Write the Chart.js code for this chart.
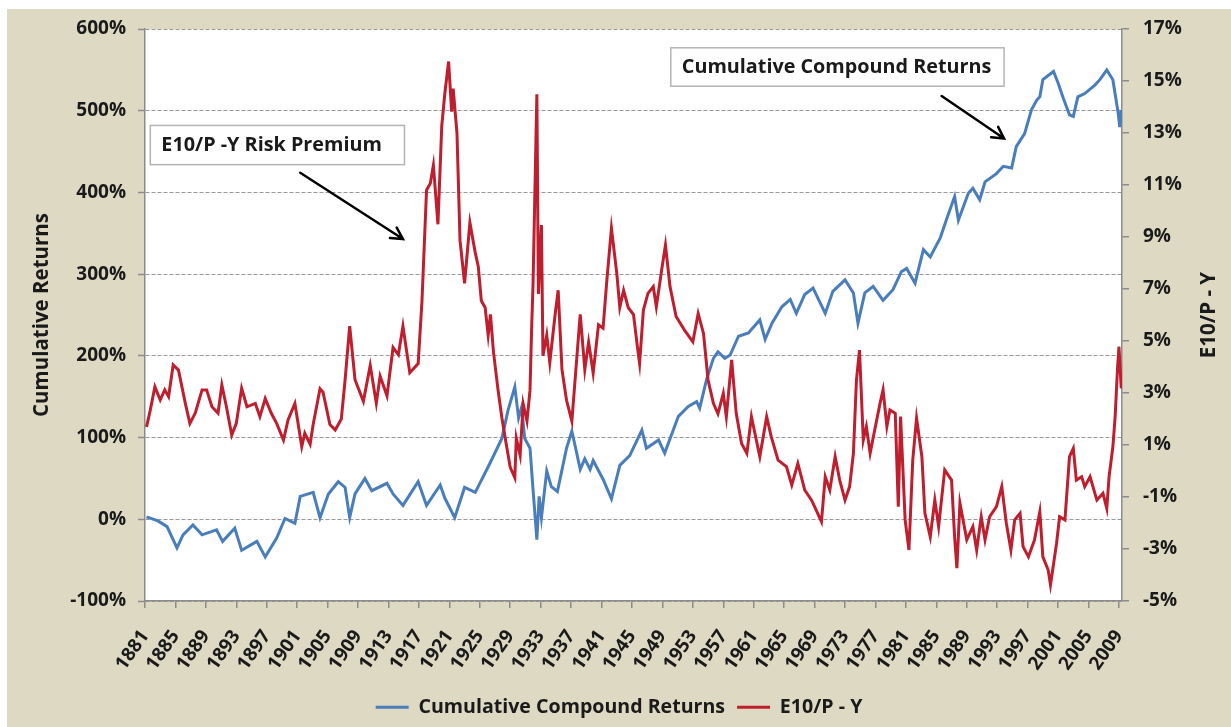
<!DOCTYPE html>
<html>
<head>
<meta charset="utf-8">
<script src="https://cdn.jsdelivr.net/npm/chart.js@4.4.1/dist/chart.umd.min.js"></script>
<style>
  html, body { margin: 0; padding: 0; background: #ffffff; }
  #frame { position: absolute; left: 7px; top: 9px; width: 1224px; height: 718px; background: #ddd9c3; }
  canvas { display: block; }
</style>
</head>
<body>
<div id="frame"><canvas id="chart" width="1224" height="718"></canvas></div>
<script>
// Cumulative compound returns (left axis, %)
var returnYears = [1881.2, 1882.7, 1883.9, 1885.2, 1886.0, 1887.3, 1888.5, 1890.4, 1891.2, 1892.8, 1893.7, 1895.7, 1896.8, 1898.3, 1899.4, 1900.7,
  1901.4, 1903.1, 1904.0, 1905.1, 1906.4, 1907.3, 1907.9, 1908.6, 1909.9, 1910.8, 1912.8, 1913.6, 1914.9, 1916.9, 1918.0, 1919.8, 1920.4,
  1921.7, 1923.0, 1924.4, 1925.0, 1926.3, 1927.9, 1928.7, 1929.6, 1930.1, 1930.5, 1930.9, 1931.6, 1932.0, 1932.5, 1932.8, 1933.1, 1933.8,
  1934.4, 1935.2, 1936.4, 1937.1, 1938.2, 1938.8, 1939.5, 1939.9, 1941.2, 1942.3, 1943.4, 1944.7, 1946.3, 1946.9, 1948.5, 1949.3, 1951.1,
  1952.4, 1953.5, 1953.9, 1954.8, 1955.7, 1956.3, 1957.2, 1957.9, 1959.0, 1960.3, 1961.8, 1962.5, 1963.4, 1964.7, 1965.8, 1966.6, 1967.7,
  1968.8, 1970.4, 1971.4, 1973.0, 1974.1, 1974.7, 1975.6, 1976.7, 1978.0, 1979.3, 1980.4, 1981.1, 1982.2, 1983.3, 1984.2, 1985.5, 1986.3,
  1987.4, 1987.9, 1989.2, 1989.8, 1990.7, 1991.4, 1992.9, 1993.8, 1994.9, 1995.5, 1996.6, 1997.5, 1998.2, 1998.6, 1999.0, 2000.4, 2001.0,
  2001.7, 2002.5, 2003.0, 2003.6, 2004.5, 2005.8, 2006.5, 2007.4, 2008.2, 2008.9, 2009.1, 2009.3];
var returnValues = [3, -2, -9, -35, -19, -7, -19, -13, -27, -11, -38, -27, -46, -23, 1, -5,
  28, 33, 2, 31, 46, 39, 2, 31, 50, 35, 44, 31, 17, 46, 17, 42, 26,
  2, 39, 33, 44, 68, 99, 133, 162, 124, 137, 99, 87, 36, -25, 28, 2, 59,
  40, 34, 87, 108, 61, 74, 61, 72, 49, 25, 66, 78, 109, 87, 97, 81, 126,
  138, 144, 136, 171, 197, 205, 197, 201, 224, 228, 244, 220, 240, 260, 269, 252, 275,
  283, 252, 279, 293, 277, 240, 277, 285, 268, 281, 303, 307, 289, 330, 321, 344, 366,
  395, 366, 399, 405, 391, 413, 423, 432, 430, 456, 472, 501, 513, 517, 538, 548, 534,
  515, 495, 493, 517, 521, 531, 538, 550, 538, 497, 480, 501];

// E10/P - Y risk premium (right axis, %)
var premiumYears = [1881.2, 1881.7, 1882.3, 1883.0, 1883.6, 1884.1, 1884.7, 1885.4, 1886.3, 1886.9, 1887.6, 1888.5, 1889.1, 1889.8, 1890.6,
  1891.1, 1891.7, 1892.4, 1893.0, 1893.7, 1894.4, 1895.5, 1896.1, 1896.8, 1897.6, 1898.3, 1899.2, 1899.8, 1900.7, 1901.6, 1902.0, 1902.7,
  1903.1, 1904.0, 1904.4, 1905.3, 1906.0, 1906.8, 1907.3, 1907.9, 1908.6, 1909.7, 1910.6, 1911.4, 1911.9, 1912.8, 1913.6, 1914.3, 1914.9,
  1915.8, 1916.9, 1917.4, 1918.0, 1918.5, 1918.9, 1919.5, 1920.0, 1920.4, 1920.9, 1921.3, 1921.5, 1922.0, 1922.4, 1923.0, 1923.7, 1924.4,
  1924.8, 1925.2, 1925.7, 1926.1, 1926.4, 1926.8, 1927.4, 1927.9, 1928.5, 1929.0, 1929.6, 1929.8, 1930.3, 1930.7, 1931.2, 1931.6, 1931.8,
  1932.0, 1932.5, 1932.7, 1933.1, 1933.3, 1933.8, 1934.2, 1934.9, 1935.3, 1935.8, 1936.4, 1937.1, 1937.7, 1938.2, 1938.8, 1939.3, 1939.9,
  1940.6, 1941.2, 1941.7, 1942.3, 1943.0, 1943.4, 1943.9, 1944.5, 1945.2, 1945.8, 1946.0, 1946.5, 1947.1, 1947.8, 1948.2, 1948.9, 1949.4,
  1950.0, 1950.8, 1951.9, 1953.0, 1953.7, 1954.4, 1955.0, 1955.7, 1956.3, 1957.0, 1957.4, 1958.1, 1958.7, 1959.4, 1960.1, 1960.7, 1961.8,
  1962.7, 1963.3, 1964.2, 1965.3, 1966.0, 1966.8, 1967.7, 1968.6, 1969.0, 1969.9, 1970.4, 1971.0, 1971.7, 1972.3, 1973.0, 1973.6, 1974.1,
  1974.5, 1974.9, 1975.4, 1975.8, 1976.3, 1976.9, 1977.6, 1978.0, 1978.5, 1978.9, 1979.6, 1980.0, 1980.3, 1980.9, 1981.4, 1981.9, 1982.4,
  1983.1, 1983.5, 1984.2, 1984.8, 1985.3, 1986.1, 1987.0, 1987.4, 1987.7, 1988.1, 1989.0, 1989.8, 1990.3, 1990.9, 1991.4, 1992.0, 1992.9,
  1993.6, 1994.2, 1994.8, 1995.3, 1996.0, 1996.4, 1997.1, 1997.9, 1998.6, 1999.0, 1999.7, 2000.0, 2000.8, 2001.2, 2001.9, 2002.5, 2003.0,
  2003.4, 2004.1, 2004.5, 2005.2, 2006.1, 2006.9, 2007.4, 2007.7, 2008.2, 2008.5, 2008.8, 2009.0, 2009.3];
var premiumValues = [1.70, 2.35, 3.24, 2.73, 3.12, 2.86, 4.08, 3.88, 2.60, 1.83, 2.22, 3.12, 3.12, 2.47, 2.22,
  3.31, 2.47, 1.38, 1.83, 3.18, 2.47, 2.60, 2.09, 2.79, 2.22, 1.83, 1.19, 1.96, 2.60, 0.94, 1.45, 1.03,
  1.79, 3.16, 3.03, 1.79, 1.58, 2.00, 3.51, 5.57, 3.51, 2.68, 4.06, 2.61, 3.65, 2.89, 4.75, 4.47, 5.57,
  3.78, 4.13, 6.53, 10.80, 11.07, 11.76, 9.49, 13.27, 14.51, 15.75, 13.82, 14.71, 13.00, 8.87, 7.22, 9.55, 8.40,
  7.87, 6.55, 6.29, 5.23, 6.02, 4.57, 3.11, 2.05, 0.99, 0.14, -0.26, 1.26, 0.60, 2.58, 1.92, 3.11, 5.36,
  7.21, 14.49, 6.81, 9.46, 4.43, 5.23, 4.17, 6.02, 6.95, 3.90, 2.72, 1.92, 4.17, 6.02, 3.90, 4.96, 3.77,
  5.62, 5.49, 7.34, 9.33, 7.61, 6.29, 6.95, 6.29, 6.02, 4.57, 4.14, 6.19, 6.83, 7.09, 6.32, 7.73, 8.69,
  7.09, 5.94, 5.42, 4.97, 6.06, 5.29, 3.50, 2.60, 2.20, 2.99, 2.09, 4.27, 2.22, 1.06, 0.68, 2.09, 0.55,
  2.09, 1.32, 0.42, 0.17, -0.54, 0.29, -0.73, -1.12, -1.37, -1.95, -0.22, -0.73, 0.55, -0.35, -1.12, -0.60, 0.68,
  3.50, 4.65, 1.19, 1.71, 0.68, 1.58, 2.60, 3.12, 1.71, 2.35, 2.22, -1.37, 2.09, -1.88, -3.04, 0.42, 2.03,
  0.55, -1.63, -2.53, -1.12, -2.14, 0.04, -0.35, -2.53, -3.74, -1.24, -2.65, -2.14, -3.04, -1.76, -2.65, -1.76, -1.37,
  -0.60, -2.01, -3.04, -1.88, -1.63, -2.91, -3.30, -2.65, -1.57, -3.30, -3.81, -4.38, -2.78, -1.76, -1.88, 0.55, 0.87,
  -0.35, -0.22, -0.60, -0.22, -1.12, -0.86, -1.44, -0.22, 0.93, 2.09, 3.88, 4.78, 3.18];

var yearTicks = [];
for (var yr = 1881; yr <= 2009; yr += 4) yearTicks.push(yr);
var returnTicks = [-100, 0, 100, 200, 300, 400, 500, 600];
var premiumTicks = [-5, -3, -1, 1, 3, 5, 7, 9, 11, 13, 15, 17];

// callout boxes and arrows, placed in data units (year, cumulative return %)
var callouts = [
  { text: 'E10/P -Y Risk Premium', x0: 1881.7, x1: 1915.1, y0: 482, y1: 434 },
  { text: 'Cumulative Compound Returns', x0: 1950.1, x1: 1993.9, y0: 577, y1: 530 }
];
var arrows = [
  { from: [1901.4, 424], to: [1914.9, 343] },
  { from: [1985.7, 518], to: [1993.9, 466] }
];

var FONT = "'Open Sans', sans-serif";
var TEXT = '#1a1a1a';
var AXIS = '#8c8c8c';
var PLOT_BOTTOM = 592; // canvas px where the plot area ends

function pairs(xs, ys) {
  return xs.map(function (x, i) { return { x: x, y: ys[i] }; });
}

var plotBackground = {
  id: 'plotBackground',
  beforeDraw: function (chart) {
    var a = chart.chartArea, ctx = chart.ctx;
    ctx.save();
    ctx.fillStyle = '#ffffff';
    ctx.fillRect(a.left, a.top, a.right - a.left, a.bottom - a.top);
    ctx.restore();
  }
};

var axisTitles = {
  id: 'axisTitles',
  afterDraw: function (chart) {
    var a = chart.chartArea, ctx = chart.ctx;
    var mid = (a.top + a.bottom) / 2;
    ctx.save();
    ctx.fillStyle = TEXT;
    ctx.font = 'bold 20.5px ' + FONT;
    ctx.textAlign = 'center';
    ctx.textBaseline = 'middle';
    [[35, 'Cumulative Returns'], [1202, 'E10/P - Y']].forEach(function (t) {
      ctx.save();
      ctx.translate(t[0], mid);
      ctx.rotate(-Math.PI / 2);
      ctx.fillText(t[1], 0, 0);
      ctx.restore();
    });
    ctx.restore();
  }
};

var calloutPlugin = {
  id: 'callouts',
  afterDatasetsDraw: function (chart) {
    var xs = chart.scales.x, ys = chart.scales.y, ctx = chart.ctx;
    ctx.save();
    callouts.forEach(function (c) {
      var l = xs.getPixelForValue(c.x0), r = xs.getPixelForValue(c.x1);
      var t = ys.getPixelForValue(c.y0), b = ys.getPixelForValue(c.y1);
      ctx.fillStyle = '#ffffff';
      ctx.fillRect(l, t, r - l, b - t);
      ctx.strokeStyle = '#b4b4b4';
      ctx.lineWidth = 1.5;
      ctx.strokeRect(l, t, r - l, b - t);
      ctx.fillStyle = TEXT;
      ctx.font = 'bold 19.8px ' + FONT;
      ctx.textAlign = 'left';
      ctx.textBaseline = 'middle';
      ctx.fillText(c.text, l + 11, (t + b) / 2);
    });
    ctx.strokeStyle = '#000000';
    ctx.lineWidth = 2.5;
    ctx.lineCap = 'round';
    arrows.forEach(function (ar) {
      var x1 = xs.getPixelForValue(ar.from[0]), y1 = ys.getPixelForValue(ar.from[1]);
      var x2 = xs.getPixelForValue(ar.to[0]), y2 = ys.getPixelForValue(ar.to[1]);
      var ang = Math.atan2(y2 - y1, x2 - x1), len = 13, spread = 0.5;
      ctx.beginPath();
      ctx.moveTo(x1, y1);
      ctx.lineTo(x2, y2);
      ctx.moveTo(x2 - len * Math.cos(ang - spread), y2 - len * Math.sin(ang - spread));
      ctx.lineTo(x2, y2);
      ctx.lineTo(x2 - len * Math.cos(ang + spread), y2 - len * Math.sin(ang + spread));
      ctx.stroke();
    });
    ctx.restore();
  }
};

// keep the y-axis label overflow from pushing the plot area down
function fixVertical(width) {
  return function (s) {
    s.width = width;
    s.paddingTop = 0;
    s.paddingBottom = 0;
  };
}

var ctx = document.getElementById('chart').getContext('2d');
var chart = new Chart(ctx, {
  type: 'line',
  data: {
    datasets: [{
      label: 'Cumulative Compound Returns',
      data: pairs(returnYears, returnValues),
      yAxisID: 'y',
      borderColor: '#4a7ebb',
      backgroundColor: '#4a7ebb',
      borderWidth: 3,
      pointRadius: 0,
      tension: 0,
      fill: false,
      order: 2
    }, {
      label: 'E10/P - Y',
      data: pairs(premiumYears, premiumValues),
      yAxisID: 'y2',
      borderColor: '#be1e2d',
      backgroundColor: '#be1e2d',
      borderWidth: 3,
      pointRadius: 0,
      tension: 0,
      fill: false,
      order: 1
    }]
  },
  options: {
    responsive: false,
    animation: false,
    devicePixelRatio: 1,
    layout: { padding: { top: 20, left: 0, right: 0, bottom: 0 } },
    plugins: {
      tooltip: { enabled: false },
      legend: {
        position: 'bottom',
        labels: {
          color: TEXT,
          font: { family: FONT, size: 19.6, weight: 'bold' },
          boxWidth: 33,
          boxHeight: 3,
          padding: 12,
          sort: function (a, b) { return a.datasetIndex - b.datasetIndex; },
          generateLabels: function (chart) {
            var items = Chart.defaults.plugins.legend.labels.generateLabels(chart);
            items.forEach(function (it) { it.lineWidth = 0; it.fillStyle = it.strokeStyle; });
            return items;
          }
        }
      }
    },
    scales: {
      x: {
        type: 'linear',
        min: 1881,
        max: 2009.4,
        afterBuildTicks: function (s) { s.ticks = yearTicks.map(function (v) { return { value: v }; }); },
        afterFit: function (s) {
          var legendH = s.chart.legend ? s.chart.legend.height : 43;
          s.height = 718 - PLOT_BOTTOM - legendH;
        },
        grid: { drawOnChartArea: false, tickLength: 7, color: AXIS, lineWidth: 1.5 },
        border: { display: true, color: AXIS, width: 1.5 },
        ticks: {
          color: TEXT,
          font: { family: FONT, size: 19, weight: 'bold' },
          minRotation: 55,
          maxRotation: 55,
          autoSkip: false,
          padding: 18,
          callback: function (v) { return String(v); }
        }
      },
      y: {
        type: 'linear',
        position: 'left',
        min: -100,
        max: 600,
        afterBuildTicks: function (s) { s.ticks = returnTicks.map(function (v) { return { value: v }; }); },
        afterFit: fixVertical(138),
        grid: { color: '#999999', lineWidth: 1, tickLength: 7, tickColor: AXIS, tickWidth: 1.5 },
        border: { display: true, color: AXIS, width: 1.5, dash: [4, 2] },
        ticks: {
          color: TEXT,
          font: { family: FONT, size: 19, weight: 'bold' },
          padding: 12,
          callback: function (v) { return v + '%'; }
        }
      },
      y2: {
        type: 'linear',
        position: 'right',
        min: -5,
        max: 17,
        afterBuildTicks: function (s) { s.ticks = premiumTicks.map(function (v) { return { value: v }; }); },
        afterFit: fixVertical(109),
        grid: { drawOnChartArea: false, tickLength: 7, color: AXIS, lineWidth: 1.5 },
        border: { display: true, color: AXIS, width: 1.5 },
        ticks: {
          color: TEXT,
          font: { family: FONT, size: 19, weight: 'bold' },
          padding: 14,
          callback: function (v) { return v + '%'; }
        }
      }
    }
  },
  plugins: [plotBackground, calloutPlugin, axisTitles]
});
</script>
</body>
</html>
